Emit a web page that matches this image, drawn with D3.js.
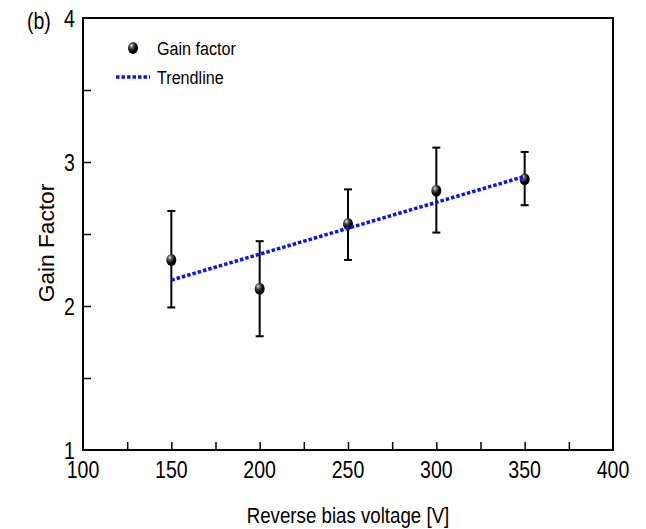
<!DOCTYPE html>
<meta charset="utf-8">
<style>
  body { margin: 0; background: #fff; }
  text { fill: #000; font-family: "Liberation Sans", Arial, sans-serif; }
  .tick-label { font-size: 23px; }
  .axis-title { font-size: 22px; }
  .legend { font-size: 19px; }
  .trend { fill: none; stroke: #0a14f0; stroke-width: 3.5; stroke-dasharray: 3.5 2; }
  .err { stroke: #000; stroke-width: 2; fill: none; }
</style>
<svg width="646" height="529"></svg>
<script src="https://cdnjs.cloudflare.com/ajax/libs/d3/7.8.5/d3.min.js"></script>
<script>

var voltage = [150, 200, 250, 300, 350],
    gain = [2.32, 2.12, 2.57, 2.80, 2.88],
    errHigh = [2.66, 2.45, 2.81, 3.10, 3.07],
    errLow = [1.99, 1.79, 2.32, 2.51, 2.70],
    trendX = [150, 350],
    trendY = [2.18, 2.90],
    xTicks = [100, 150, 200, 250, 300, 350, 400],
    yTicks = [1, 2, 3, 4];

var svg = d3.select("svg");

var m = { left: 83, right: 613, top: 18, bottom: 450 };

var x = d3.scaleLinear().domain([100, 400]).range([m.left, m.right]);
var y = d3.scaleLinear().domain([1, 4]).range([m.bottom, m.top]);

// narrow-looking text: squeeze horizontally around the anchor point
function label(cls, px, py, str, anchor, sx, rot) {
  var g = svg.append("g")
      .attr("transform", "translate(" + px + "," + py + ")" + (rot ? " rotate(" + rot + ")" : "") + " scale(" + sx + ",1)");
  g.append("text")
      .attr("class", cls)
      .attr("text-anchor", anchor || "start")
      .text(str);
  return g;
}

// glossy sphere marker
var defs = svg.append("defs");
var grad = defs.append("radialGradient")
    .attr("id", "ball")
    .attr("cx", "35%").attr("cy", "30%").attr("r", "70%");
grad.append("stop").attr("offset", "0%").attr("stop-color", "#e8e8e8");
grad.append("stop").attr("offset", "30%").attr("stop-color", "#555");
grad.append("stop").attr("offset", "70%").attr("stop-color", "#000");
grad.append("stop").attr("offset", "100%").attr("stop-color", "#000");

// frame
svg.append("rect")
    .attr("x", m.left).attr("y", m.top)
    .attr("width", m.right - m.left).attr("height", m.bottom - m.top)
    .attr("fill", "none").attr("stroke", "#000").attr("stroke-width", 2);

// x ticks (major + minor, pointing inward)
svg.append("g")
    .attr("transform", "translate(0," + m.bottom + ")")
    .call(d3.axisBottom(x).tickValues(d3.range(125, 400, 25)).tickSizeInner(-8).tickSizeOuter(0).tickFormat(""))
    .call(function(g) { g.select(".domain").remove(); })
    .selectAll("line").attr("stroke-width", 1.5);

svg.append("g")
    .attr("transform", "translate(" + m.left + ",0)")
    .call(d3.axisLeft(y).tickValues([1.5, 2, 2.5, 3, 3.5]).tickSizeInner(-8).tickSizeOuter(0).tickFormat(""))
    .call(function(g) { g.select(".domain").remove(); })
    .selectAll("line").attr("stroke-width", 1.5);

// tick labels
xTicks.forEach(function(d) {
  label("tick-label", x(d), m.bottom + 28, d, "middle", 0.85);
});
yTicks.forEach(function(d) {
  label("tick-label", m.left - 8, y(d) + 9, d, "end", 0.85);
});

// axis titles
label("axis-title", (m.left + m.right) / 2, 523, "Reverse bias voltage [V]", "middle", 0.85);
label("axis-title", 54, 243, "Gain Factor", "middle", 1.03, -90);
label("tick-label", 27, 29, "(b)", "start", 0.85);

// error bars
var bars = svg.append("g").selectAll("g")
    .data(voltage).join("g");

bars.append("line").attr("class", "err")
    .attr("x1", function(d) { return x(d); })
    .attr("x2", function(d) { return x(d); })
    .attr("y1", function(d, i) { return y(errHigh[i]); })
    .attr("y2", function(d, i) { return y(errLow[i]); });

bars.append("line").attr("class", "err")
    .attr("x1", function(d) { return x(d) - 4; })
    .attr("x2", function(d) { return x(d) + 4; })
    .attr("y1", function(d, i) { return y(errHigh[i]); })
    .attr("y2", function(d, i) { return y(errHigh[i]); });

bars.append("line").attr("class", "err")
    .attr("x1", function(d) { return x(d) - 4; })
    .attr("x2", function(d) { return x(d) + 4; })
    .attr("y1", function(d, i) { return y(errLow[i]); })
    .attr("y2", function(d, i) { return y(errLow[i]); });

// points
svg.append("g").selectAll("ellipse")
    .data(voltage).join("ellipse")
    .attr("cx", function(d) { return x(d); })
    .attr("cy", function(d, i) { return y(gain[i]); })
    .attr("rx", 5).attr("ry", 6)
    .attr("fill", "url(#ball)");

// trendline
var line = d3.line()
    .x(function(d) { return x(d); })
    .y(function(d, i) { return y(trendY[i]); });

svg.append("path")
    .datum(trendX)
    .attr("class", "trend")
    .attr("d", line);

// legend
svg.append("ellipse")
    .attr("cx", 133).attr("cy", 48)
    .attr("rx", 5).attr("ry", 6)
    .attr("fill", "url(#ball)");
label("legend", 157, 55, "Gain factor", "start", 0.85);

svg.append("line")
    .attr("class", "trend")
    .attr("x1", 116).attr("x2", 150)
    .attr("y1", 77).attr("y2", 77);
label("legend", 157, 84, "Trendline", "start", 0.85);

</script>
